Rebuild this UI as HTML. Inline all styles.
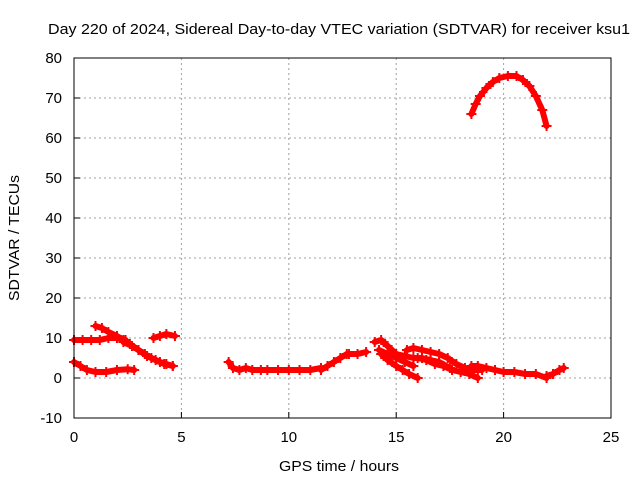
<!DOCTYPE html>
<html><head><meta charset="utf-8"><style>
body{margin:0;background:#fff;}
svg{display:block;font-family:"Liberation Sans",sans-serif;}
</style></head><body>
<svg id="chart" width="640" height="480">
<rect width="640" height="480" fill="#fff"/>
<text x="48" y="34" font-size="15" textLength="582" lengthAdjust="spacingAndGlyphs">Day 220 of 2024, Sidereal Day-to-day VTEC variation (SDTVAR) for receiver ksu1</text>
<text x="339" y="471" font-size="15" text-anchor="middle" textLength="120" lengthAdjust="spacingAndGlyphs">GPS time / hours</text>
<text x="0" y="0" font-size="15" text-anchor="middle" textLength="126" lengthAdjust="spacingAndGlyphs" transform="translate(19,238) rotate(-90)">SDTVAR / TECUs</text>
<g id="grid"></g>
<g id="ticks"></g>
<g id="series"></g>
<rect x="74" y="58" width="537" height="360" fill="none" stroke="#000" stroke-width="1"/>
</svg>
<script>
const xTicks=[0,5,10,15,20,25];
const yTicks=[-10,0,10,20,30,40,50,60,70,80];
const trackHours=[
[0,0.3,0.6,1,1.5,2,2.5,2.8],
[0,0.4,0.8,1.2,1.6,2,2.4],
[1,1.3,1.6,2,2.3,2.6,3,3.3,3.6,4,4.3,4.6],
[2.3,2.7,3,3.4,3.8,4.2,4.6],
[3.7,4,4.3,4.7],
[7.2,7.4,7.7,8,8.3,8.7,9,9.5,10,10.5,11,11.5],
[11.5,11.8,12.1,12.4,12.7],
[12.8,13.2,13.6],
[14,14.3,14.6,15,15.4,15.8,16.2,16.6,17,17.5],
[14.3,14.6,15,15.3,15.6,16],
[14.2,14.6,15,15.4,15.8],
[15.5,15.8,16.2,16.6,17,17.4,17.8,18.2,18.6,19],
[16,16.4,16.8,17.2,17.6,18,18.4,18.8],
[18.5,18.8,19.2,19.6,20,20.5,21,21.5,22],
[22,22.3,22.6,22.8],
[18.5,18.7,18.9,19.2,19.5,19.8,20.2,20.6,20.9,21.2,21.5,21.8,22]
];
const trackValues=[
[4,3,2,1.5,1.5,2,2.2,2],
[9.5,9.5,9.5,9.5,10,10,9.5],
[13,12.5,11.5,10.5,9.5,8.5,7,6,5,4,3.5,3],
[9,8,7,5.5,4.5,3.5,3],
[10,10.5,11,10.5],
[4,2.5,2,2.5,2,2,2,2,2,2,2,2.5],
[2,3,4,5,6],
[6,6,6.5],
[9,9.5,8,6,5.5,5,5,4.5,4,2.5],
[6,4.5,3,2,1,0],
[7,6,5,4,3],
[7,7.5,7,6.5,6,5,3.5,2.5,2,2],
[5,4.5,3.5,3,2,1.5,1,0],
[3,3,2.5,2,1.5,1.5,1,1,0],
[0.5,1,2,2.5],
[66,68.5,70.5,72.5,74,75,75.5,75.5,74.5,73,70.5,67,63]
];
const X0=74,X1=611,Y0=418,Y1=58;
const xs=v=>X0+(v-0)/25*(X1-X0);
const ys=v=>Y0-(v+10)/90*(Y0-Y1);
const NS='http://www.w3.org/2000/svg';
const grid=document.getElementById('grid'),ticks=document.getElementById('ticks'),ser=document.getElementById('series');
function mk(tag,attrs,parent){const e=document.createElementNS(NS,tag);for(const k in attrs)e.setAttribute(k,attrs[k]);parent.appendChild(e);return e;}
xTicks.forEach(t=>{const x=xs(t);
 if(t>0&&t<25){const g=mk('line',{x1:x,x2:x,y1:Y1,y2:Y0,stroke:'#a0a0a0','stroke-dasharray':'2,3'},grid);
 
 }
 const tk=mk('line',{x1:x,x2:x,y1:Y0,y2:Y0-6,stroke:'#000'},ticks);
 
 
 const lb=mk('text',{x:x,y:Y0+24,'font-size':15,'text-anchor':'middle'},ticks);lb.textContent=t;
 
 
});
yTicks.forEach(t=>{const y=ys(t);
 if(t>-10&&t<80){const g=mk('line',{x1:X0,x2:X1,y1:y,y2:y,stroke:'#a0a0a0','stroke-dasharray':'2,3'},grid);
 
 }
 const tk=mk('line',{x1:X0,x2:X0+6,y1:y,y2:y,stroke:'#000'},ticks);
 
 
 const lb=mk('text',{x:X0-12,y:y+5,'font-size':15,'text-anchor':'end'},ticks);lb.textContent=t;
 
 
});
trackHours.forEach((hs,i)=>{
 const vs=trackValues[i];
 const pts=hs.map((h,j)=>xs(h)+','+ys(vs[j])).join(' ');
 const pl=mk('polyline',{points:pts,fill:'none',stroke:'#f00','stroke-width':6,'stroke-linejoin':'round','stroke-linecap':'round'},ser);
 
 
 hs.forEach((h,j)=>{const x=xs(h),y=ys(vs[j]);
  const p=mk('path',{d:`M${x-5},${y}H${x+5}M${x},${y-5}V${y+5}`,stroke:'#f00','stroke-width':2},ser);
  
  
 });
});
</script>
</body></html>
